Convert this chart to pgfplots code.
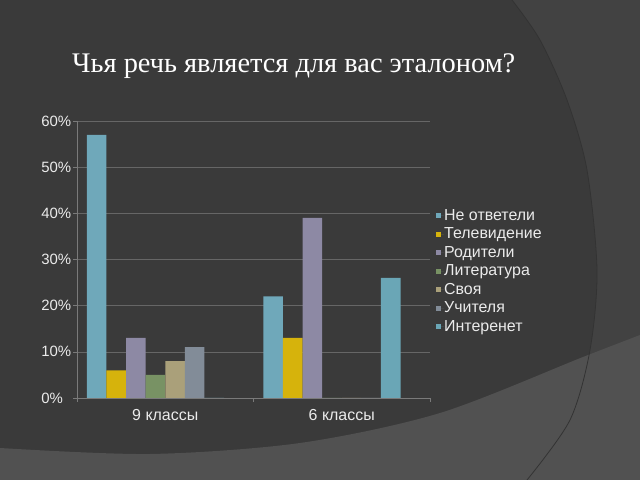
\documentclass[border=0pt]{standalone}
\usepackage{fontspec}
\setmainfont{Liberation Sans}
\newfontfamily\titlefont{Liberation Serif}
\usepackage{pgfplots}
\pgfplotsset{compat=1.18}
\definecolor{bgmain}{HTML}{3A3A3A}
\definecolor{bgright}{HTML}{424242}
\definecolor{bgband}{HTML}{515151}
\definecolor{arcline}{HTML}{333333}
\definecolor{cA}{HTML}{6FA8BA}
\definecolor{cB}{HTML}{D6B30C}
\definecolor{cC}{HTML}{8D89A4}
\definecolor{cD}{HTML}{789264}
\definecolor{cE}{HTML}{AAA07A}
\definecolor{cF}{HTML}{828C98}
\definecolor{cG}{HTML}{6AA6B6}
\definecolor{gridc}{HTML}{666666}
\definecolor{axc}{HTML}{7A7A7A}
\definecolor{txt}{HTML}{EBEBEB}
\begin{document}
\begin{tikzpicture}
\useasboundingbox (0bp,0bp) rectangle (640bp,480bp);
\fill[bgmain] (0bp,0bp) rectangle (640bp,480bp);
\fill[bgright] (640bp,480bp) -- plot[smooth] coordinates {(512bp,480bp) (540bp,440bp) (567bp,380bp) (587bp,310bp) (597bp,210bp) (590bp,130bp) (570bp,60bp) (527bp,0bp)} -- (640bp,0bp) -- cycle;
\fill[bgband] (0bp,0bp) -- plot[smooth] coordinates {(0bp,32bp) (150bp,26bp) (300bp,37bp) (440bp,67bp) (583bp,123bp) (640bp,145bp)} -- (640bp,0bp) -- cycle;
\draw[arcline, line width=0.8bp] plot[smooth] coordinates {(512bp,480bp) (540bp,440bp) (567bp,380bp) (587bp,310bp) (597bp,210bp) (590bp,130bp) (570bp,60bp) (527bp,0bp)};
\node[anchor=base west, inner sep=0pt, text=white] at (72bp,407bp) {\titlefont\fontsize{28.5}{31}\selectfont Чья речь является для вас эталоном?};
\begin{axis}[
  at={(77bp,82bp)}, anchor=south west,
  width=353bp, height=277bp, scale only axis,
  xmin=-0.5, xmax=1.5, ymin=0, ymax=60,
  axis x line*=bottom, axis y line*=left,
  axis line style={draw=axc, line width=0.6bp},
  ymajorgrids, grid style={draw=gridc, line width=0.6bp},
  ytick={0,10,20,30,40,50,60},
  yticklabels={0\%,10\%,20\%,30\%,40\%,50\%,60\%},
  xtick={0,1}, xticklabels={9 классы,6 классы},
  minor xtick={-0.5,0.5,1.5},
  tick align=outside,
  major tick length=4bp, minor tick length=4bp,
  major x tick style={draw=none},
  minor x tick style={draw=axc, line width=0.6bp},
  major y tick style={draw=axc, line width=0.6bp},
  yticklabel style={font=\fontsize{15}{17}\selectfont, text=txt, text width=31bp, align=left, inner sep=0pt, xshift=-0.5bp},
  xticklabel style={font=\fontsize{16}{18}\selectfont, text=txt, yshift=-3.5bp},
  ybar, bar width=0.1111,
  legend cell align=left,
  legend style={at={(1.0085,0.457)}, anchor=west, draw=none, fill=none,
    font=\fontsize{16}{18}\selectfont, text=txt,
    row sep=3bp,
    nodes={inner sep=0pt, text height=12bp, text depth=3.5bp}},
  legend image code/.code={\fill[#1,draw=none] (0bp,-2.5bp) rectangle (5bp,2.5bp); \path (0bp,0bp) -- (8bp,0bp);},
  every axis plot/.append style={draw=none},
]
\addplot[fill=cA, bar shift=-0.3889] coordinates {(0,57) (1,22)};
\addplot[fill=cB, bar shift=-0.2778] coordinates {(0,6) (1,13)};
\addplot[fill=cC, bar shift=-0.1667] coordinates {(0,13) (1,39)};
\addplot[fill=cD, bar shift=-0.0556] coordinates {(0,5) (1,0)};
\addplot[fill=cE, bar shift=0.0556] coordinates {(0,8) (1,0)};
\addplot[fill=cF, bar shift=0.1667] coordinates {(0,11) (1,0)};
\addplot[fill=cG, bar shift=0.2778] coordinates {(0,0) (1,26)};
\legend{Не ответели,Телевидение,Родители,Литература,Своя,Учителя,Интеренет}
\end{axis}
\end{tikzpicture}
\end{document}
